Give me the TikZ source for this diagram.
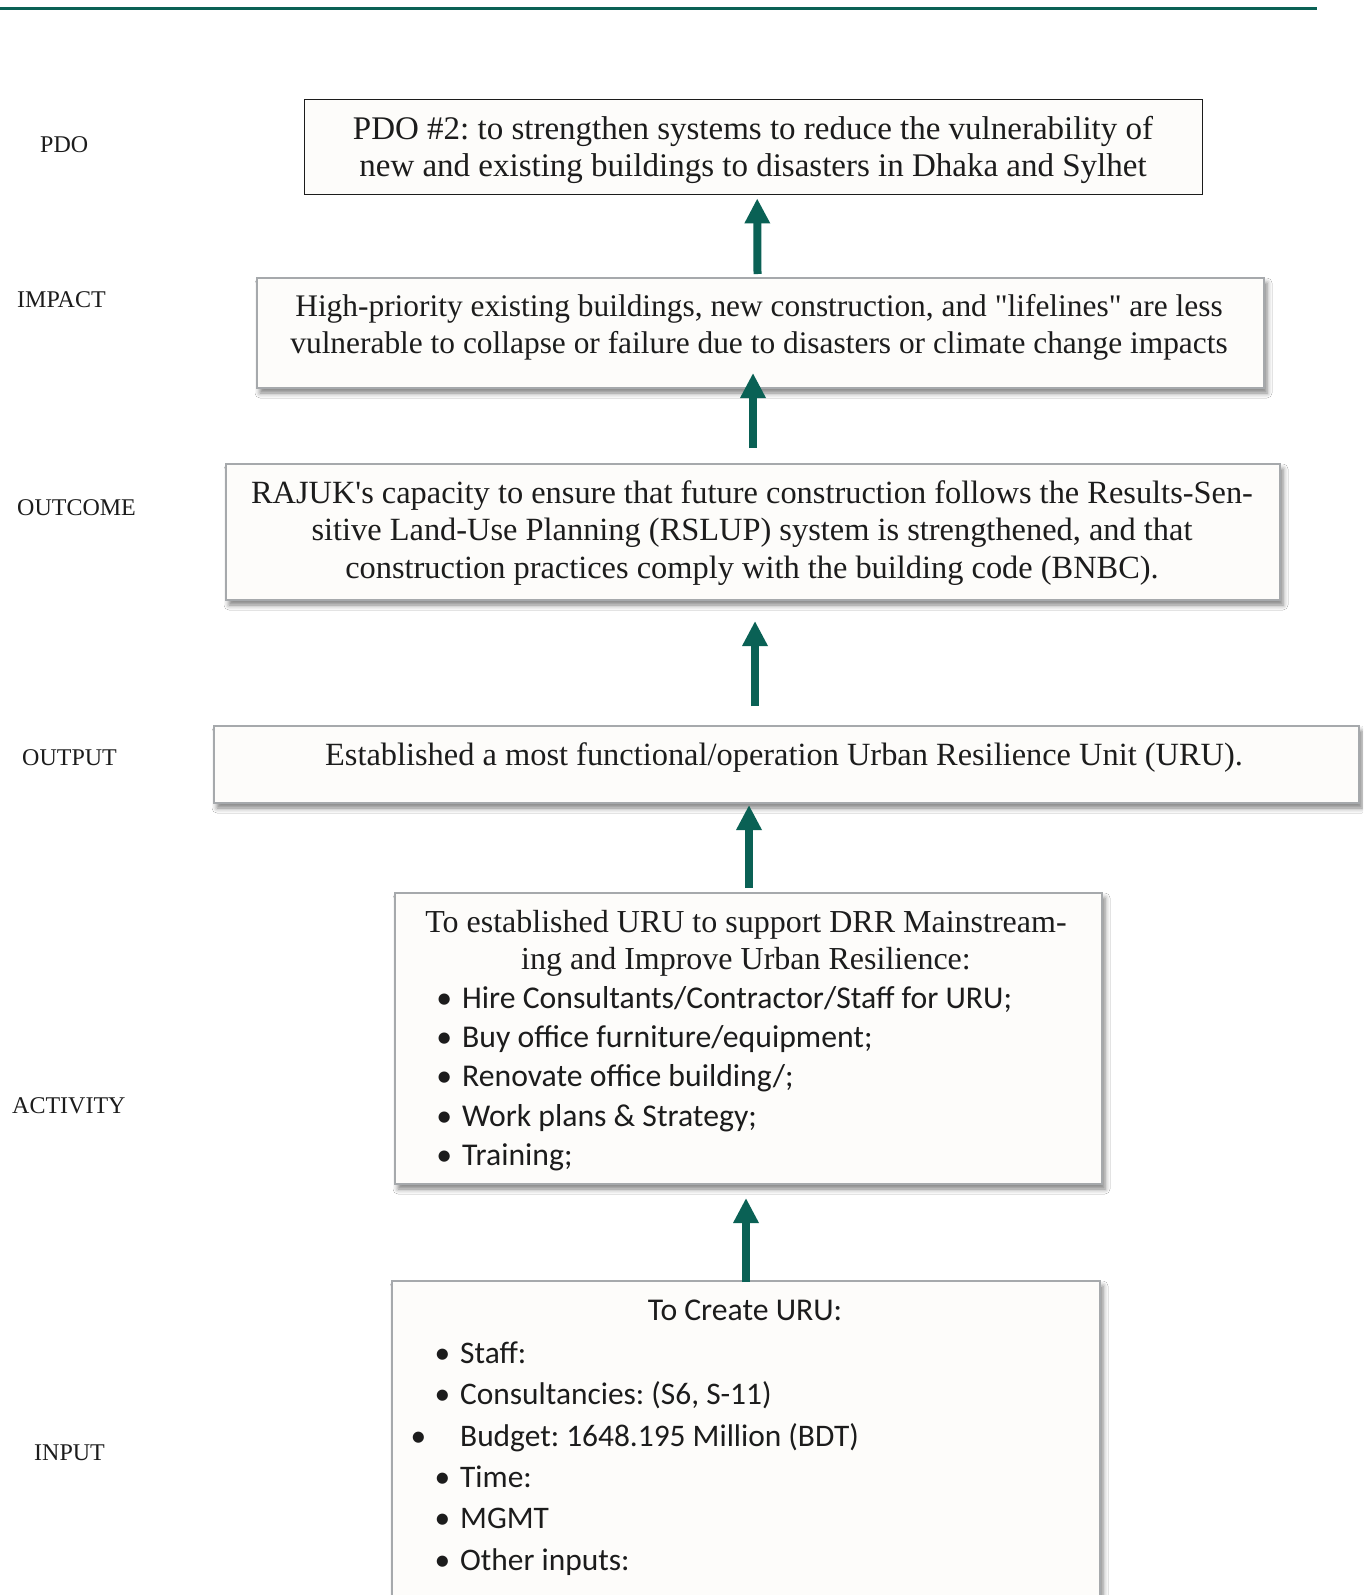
\documentclass[tikz,border=0pt]{standalone}
\usepackage{fontspec}
\setmainfont{Liberation Serif}[Ligatures=TeXOff]
\newfontfamily\listfont{Carlito}
\usetikzlibrary{arrows.meta,shadows.blur}
\frenchspacing

\definecolor{rfteal}{RGB}{10,97,85}
\definecolor{rfgray}{RGB}{166,169,172}
\definecolor{rfpaper}{RGB}{253,252,250}
\definecolor{rfink}{RGB}{28,28,28}

% bullet item: dot hangs left of the item text
\newcommand{\rfitem}[1]{\makebox[0pt][r]{\textbullet\hspace{10pt}}#1}
\newcommand{\rfwideitem}[1]{\makebox[0pt][r]{\textbullet\hspace{34pt}}#1}

\begin{document}
\begin{tikzpicture}[x=1pt,y=-1pt,
  every node/.style={text=rfink},
  rowlabel/.style={anchor=west, font=\fontsize{24}{28}\selectfont, inner sep=0pt},
  plainbox/.style={draw=rfink, line width=1.4pt, fill=rfpaper, anchor=north west, inner sep=0pt},
  shadebox/.style={draw=rfgray, line width=2pt, fill=rfpaper, anchor=north west, inner sep=0pt,
    blur shadow={shadow xshift=3pt, shadow yshift=-5pt, shadow blur radius=5pt, shadow opacity=50}},
  boxtext/.style={align=center, font=\fontsize{#1}{37.5}\selectfont, inner sep=0pt},
  boxtext/.default=33,
  listtext/.style={align=left, anchor=west, font=\listfont\fontsize{31.7}{39.3}\selectfont, inner sep=0pt},
  uparrow/.style={draw=rfteal, line width=8pt, -{Triangle[width=24pt,length=25pt]}}
]
\useasboundingbox (0,0) rectangle (1363,1595);
\clip (0,0) rectangle (1363,1595);
\fill[white] (0,0) rectangle (1363,1595);

% header rule
\draw[rfteal, line width=3pt] (0,8.5) -- (1317,8.5);

% row labels
\node[rowlabel] (lpdo) at (40,145) {PDO};
\node[rowlabel] (limpact) at (17,300) {IMPACT};
\node[rowlabel] (loutcome) at (17,508) {OUTCOME};
\node[rowlabel] (loutput) at (22,758) {OUTPUT};
\node[rowlabel] (lactivity) at (12,1106) {ACTIVITY};
\node[rowlabel] (linput) at (34,1453) {INPUT};

% boxes
\node[plainbox, minimum width=898, minimum height=95] (pdo) at (304,99) {};
\node[shadebox, minimum width=1007, minimum height=110] (impact) at (256,277) {};
\node[shadebox, minimum width=1054, minimum height=136] (outcome) at (225,463) {};
\node[shadebox, minimum width=1145, minimum height=77] (output) at (213,725) {};
\node[shadebox, minimum width=707, minimum height=291] (activity) at (394,892) {};
\node[shadebox, minimum width=708, minimum height=360] (input) at (391,1280) {};

% box texts
\node[boxtext=33] (pdotext) at (753,150) {PDO \#2: to strengthen systems to reduce the vulnerability of\\new and existing buildings to disasters in Dhaka and Sylhet};
\node[boxtext=31.4] (impacttext) at (759,327.5) {High-priority existing buildings, new construction, and "lifelines" are less\\vulnerable to collapse or failure due to disasters or climate change impacts};
\node[boxtext=32.4] (outcometext) at (752,533) {RAJUK's capacity to ensure that future construction follows the Results-Sen-\\sitive Land-Use Planning (RSLUP) system is strengthened, and that\\construction practices comply with the building code (BNBC).};
\node[boxtext=32.4] (outputtext) at (784,758) {Established a most functional/operation Urban Resilience Unit (URU).};

\node[boxtext=32] (activityhead) at (746,943.5) {To established URU to support DRR Mainstream-\\ing and Improve Urban Resilience:};
\node[listtext] (activitylist) at (462,1078.5) {\rfitem{Hire Consultants/Contractor/Staff for URU;}\\
\rfitem{Buy office furniture/equipment;}\\
\rfitem{Renovate office building/;}\\
\rfitem{Work plans \& Strategy;}\\
\rfitem{Training;}};

\node[listtext, anchor=center] (inputhead) at (745,1310) {To Create URU:};
\node[listtext, font=\listfont\fontsize{31.4}{41.4}\selectfont] (inputlist) at (460,1458.5) {\rfitem{Staff:}\\
\rfitem{Consultancies: (S6, S-11)}\\
\rfwideitem{Budget: 1648.195 Million (BDT)}\\
\rfitem{Time:}\\
\rfitem{MGMT}\\
\rfitem{Other inputs:}};

% connectors
\draw[uparrow] ([shift={(-3,-3)}]impact.north) -- ([shift={(3.5,3)}]pdo.south);
\draw[uparrow] ([shift={(0,-15)}]outcome.north) -- ([shift={(-7.5,-16)}]impact.south);
\draw[uparrow] ([shift={(-31.5,-19)}]output.north) -- ([shift={(2,20)}]outcome.south);
\draw[uparrow] ([shift={(0.5,-4)}]activity.north) -- ([shift={(-37.5,1)}]output.south);
\draw[uparrow] ([shift={(0,2)}]input.north) -- ([shift={(-2.5,13)}]activity.south);
\end{tikzpicture}
\end{document}
